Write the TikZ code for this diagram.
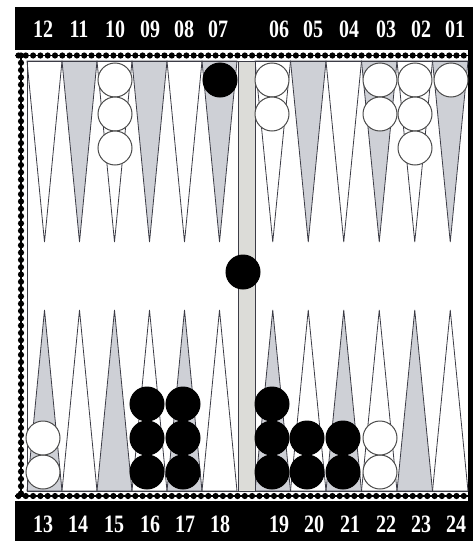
\documentclass[tikz,border=0pt]{standalone}
\usepackage{fontspec}
\setmainfont{Liberation Serif}
\usepackage{graphicx}
\definecolor{ptgray}{RGB}{206,208,214}
\definecolor{bargray}{RGB}{220,220,216}
\definecolor{edge}{RGB}{60,60,70}
\newcommand\lbl[1]{\scalebox{0.8}[1]{#1}}
\tikzset{
  lab/.style={text=white,font=\bfseries\fontsize{25}{25}\selectfont,inner sep=0pt,anchor=center},
  ptwhite/.style={fill=white,draw=edge,line width=0.8pt},
  ptgrey/.style={fill=ptgray,draw=edge,line width=0.8pt},
  chkW/.style={circle,draw=black!70,line width=1pt,fill=white,minimum size=34pt,inner sep=0pt},
  chkB/.style={circle,draw=black,line width=1pt,fill=black,minimum size=34pt,inner sep=0pt},
  pearl/.style={fill=black}
}
\begin{document}
\begin{tikzpicture}[x=1pt,y=-1pt]
\useasboundingbox (0,0) rectangle (473,541);
\fill[white] (0,0) rectangle (473,541);
% frame
\fill[black] (15,7) rectangle (473,541);
\fill[white] (27,61) rectangle (468,491);
% dotted bands
\fill[white] (15,50) rectangle (468,61);
\fill[white] (15,50) rectangle (27,501);
\fill[white] (15,491) rectangle (468,501);
\draw[line width=1.6pt] (15,55.5) -- (468,55.5);
\draw[line width=1.6pt] (15,496) -- (468,496);
\draw[line width=1.6pt] (21,55.5) -- (21,496);
\foreach \x in {0,...,62} {
  \fill[pearl] (18.5+\x*7.3,55.5) circle (3.1);
  \fill[pearl] (18.5+\x*7.3,496) circle (3.1);
}
\foreach \y in {0,...,60} {
  \fill[pearl] (21,55.5+\y*7.3) circle (3.1);
}
% points left half (12..07 top, 13..18 bottom)
\foreach \i in {0,...,5} {
  \pgfmathsetmacro{\xa}{27+\i*35}
  \ifodd\i
    \draw[ptgrey] (\xa,61) -- (\xa+35,61) -- (\xa+17.5,242) -- cycle;
    \draw[ptwhite] (\xa,491) -- (\xa+35,491) -- (\xa+17.5,310) -- cycle;
  \else
    \draw[ptwhite] (\xa,61) -- (\xa+35,61) -- (\xa+17.5,242) -- cycle;
    \draw[ptgrey] (\xa,491) -- (\xa+35,491) -- (\xa+17.5,310) -- cycle;
  \fi
}
% points right half (06..01 top, 19..24 bottom)
\foreach \i in {0,...,5} {
  \pgfmathsetmacro{\xa}{255+\i*35.5}
  \ifodd\i
    \draw[ptgrey] (\xa,61) -- (\xa+35.5,61) -- (\xa+17.75,242) -- cycle;
    \draw[ptwhite] (\xa,491) -- (\xa+35.5,491) -- (\xa+17.75,310) -- cycle;
  \else
    \draw[ptwhite] (\xa,61) -- (\xa+35.5,61) -- (\xa+17.75,242) -- cycle;
    \draw[ptgrey] (\xa,491) -- (\xa+35.5,491) -- (\xa+17.75,310) -- cycle;
  \fi
}
% bar
\draw[fill=bargray,draw=edge,line width=0.8pt] (238,61) rectangle (255,491);
\draw[edge,line width=1pt] (27,61) -- (468,61);
\draw[edge,line width=1pt] (27,491) -- (468,491);
\draw[edge,line width=1pt] (27,61) -- (27,491);
% checkers top
\node[chkW] (w10a) at (115,80) {};
\node[chkW] (w10b) at (115,114) {};
\node[chkW] (w10c) at (115,148) {};
\node[chkB] (b07a) at (220,80) {};
\node[chkW] (w06a) at (272,80) {};
\node[chkW] (w06b) at (272,114) {};
\node[chkW] (w03a) at (380,80) {};
\node[chkW] (w03b) at (380,114) {};
\node[chkW] (w02a) at (415,80) {};
\node[chkW] (w02b) at (415,114) {};
\node[chkW] (w02c) at (415,148) {};
\node[chkW] (w01a) at (451,80) {};
% bar checker
\node[chkB] (bbar) at (243,272) {};
% checkers bottom
\node[chkW] (w13a) at (43,472) {};
\node[chkW] (w13b) at (43,438) {};
\node[chkB] (b16a) at (147,472) {};
\node[chkB] (b16b) at (147,438) {};
\node[chkB] (b16c) at (147,404) {};
\node[chkB] (b17a) at (183,472) {};
\node[chkB] (b17b) at (183,438) {};
\node[chkB] (b17c) at (183,404) {};
\node[chkB] (b19a) at (272,472) {};
\node[chkB] (b19b) at (272,438) {};
\node[chkB] (b19c) at (272,404) {};
\node[chkB] (b20a) at (307,472) {};
\node[chkB] (b20b) at (307,438) {};
\node[chkB] (b21a) at (343,472) {};
\node[chkB] (b21b) at (343,438) {};
\node[chkW] (w22a) at (380,472) {};
\node[chkW] (w22b) at (380,438) {};
% labels top
\node[lab] (l12) at (43,29) {\lbl{12}};
\node[lab] (l11) at (79,29) {\lbl{11}};
\node[lab] (l10) at (115,29) {\lbl{10}};
\node[lab] (l09) at (150,29) {\lbl{09}};
\node[lab] (l08) at (184,29) {\lbl{08}};
\node[lab] (l07) at (218,29) {\lbl{07}};
\node[lab] (l06) at (279,29) {\lbl{06}};
\node[lab] (l05) at (313,29) {\lbl{05}};
\node[lab] (l04) at (349,29) {\lbl{04}};
\node[lab] (l03) at (386,29) {\lbl{03}};
\node[lab] (l02) at (421,29) {\lbl{02}};
\node[lab] (l01) at (455,29) {\lbl{01}};
% labels bottom
\node[lab] (l13) at (43,524) {\lbl{13}};
\node[lab] (l14) at (78,524) {\lbl{14}};
\node[lab] (l15) at (114,524) {\lbl{15}};
\node[lab] (l16) at (150,524) {\lbl{16}};
\node[lab] (l17) at (185,524) {\lbl{17}};
\node[lab] (l18) at (220,524) {\lbl{18}};
\node[lab] (l19) at (279,524) {\lbl{19}};
\node[lab] (l20) at (314,524) {\lbl{20}};
\node[lab] (l21) at (350,524) {\lbl{21}};
\node[lab] (l22) at (386,524) {\lbl{22}};
\node[lab] (l23) at (421,524) {\lbl{23}};
\node[lab] (l24) at (456,524) {\lbl{24}};
\end{tikzpicture}
\end{document}
